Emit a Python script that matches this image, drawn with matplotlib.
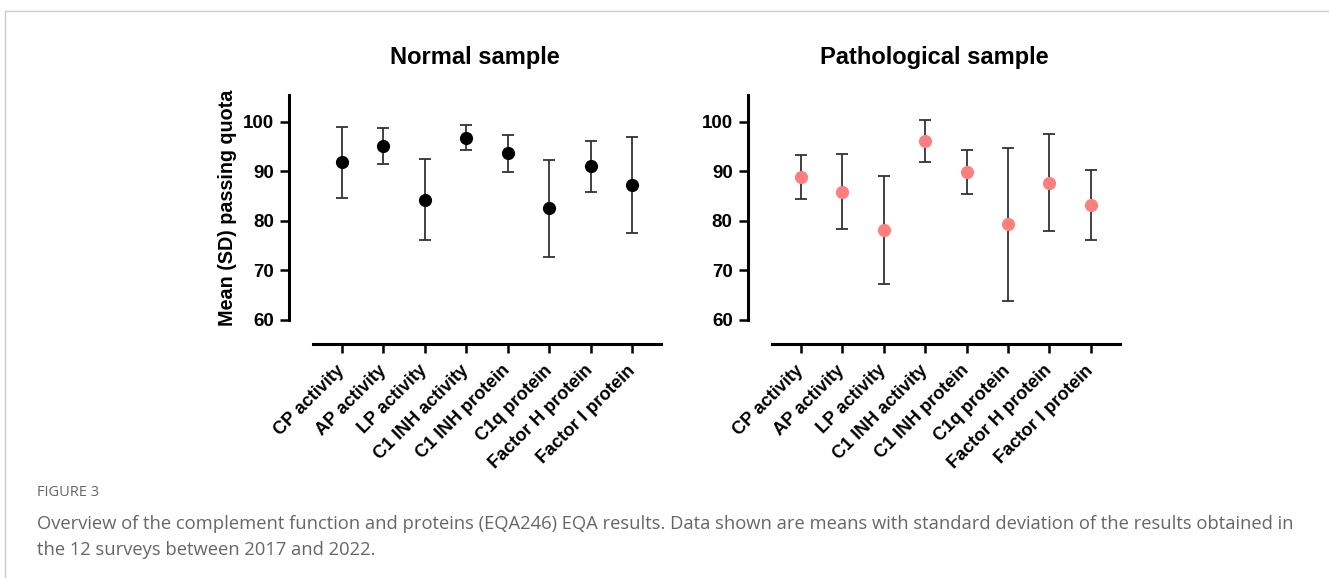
import matplotlib.pyplot as plt
import matplotlib.transforms as mtransforms
import numpy as np

# complement EQA results, mean and SD of passing quota (%)
categories = ['CP activity', 'AP activity', 'LP activity', 'C1 INH activity',
              'C1 INH protein', 'C1q protein', 'Factor H protein', 'Factor I protein']
normal_mean = [91.8, 95.1, 84.3, 96.8, 93.6, 82.5, 91.0, 87.2]
normal_sd = [7.1, 3.7, 8.1, 2.5, 3.75, 9.85, 5.1, 9.7]
patho_mean = [88.8, 85.9, 78.1, 96.1, 89.9, 79.3, 87.7, 83.2]
patho_sd = [4.45, 7.5, 10.85, 4.2, 4.45, 15.5, 9.75, 7.1]
y_ticks = [60, 70, 80, 90, 100]

plt.rcParams['font.family'] = ['Liberation Sans', 'DejaVu Sans']

fig = plt.figure(figsize=(13.29, 5.78), dpi=100)

panels = [
	(0.2355, normal_mean, normal_sd, 'black', 'Normal sample'),
	(0.5807, patho_mean, patho_sd, '#ff7f7f', 'Pathological sample'),
]

x_ind = np.arange(len(categories))
# nudge rotated labels a little left/down like the original
label_shift = mtransforms.ScaledTranslation(-6 / 100, -3 / 100, fig.dpi_scale_trans)
for left, means, sds, col, title in panels:
	ax = fig.add_axes([left, 0.4464, 0.262, 0.3893])
	# spines first: moving them resets the tick labels
	for s in ['top', 'right']:
		ax.spines[s].set_visible(False)
	ax.spines['left'].set_position(('outward', 17.3))
	ax.spines['bottom'].set_position(('outward', 17.3))
	ax.spines['left'].set_linewidth(2.2)
	ax.spines['bottom'].set_linewidth(2.2)

	ax.errorbar(x_ind, means, yerr=sds, fmt='none', ecolor='#333333',
				elinewidth=1.3, capsize=4.4, capthick=1.3, zorder=2)
	ax.plot(x_ind, means, 'o', color=col, markersize=9.5, markeredgewidth=0, zorder=3)
	ax.set_xlim(-0.7, 7.7)
	ax.set_ylim(60, 105.4)
	ax.set_yticks(y_ticks)
	ax.set_yticklabels([str(v) for v in y_ticks], fontsize=13.5, fontweight='bold')
	ax.set_xticks(x_ind)
	ax.set_xticklabels(categories, rotation=45, ha='right', rotation_mode='anchor',
					   fontsize=13, fontweight='bold')
	ax.tick_params(axis='both', width=1.8, length=6.8, color='black', pad=4)
	for lab in ax.get_xticklabels():
		lab.set_transform(lab.get_transform() + label_shift)
	ax.set_title(title, fontsize=17, fontweight='bold', pad=22, x=0.4655)
	if left < 0.5:
		ax.set_ylabel('Mean (SD) passing quota', fontsize=14.2, fontweight='bold', labelpad=4)

# page frame lines and caption
fig.add_artist(plt.Line2D([5 / 1329, 1], [1 - 11 / 578, 1 - 11 / 578], color='#cccccc', lw=1))
fig.add_artist(plt.Line2D([5 / 1329, 5 / 1329], [0, 1 - 11 / 578], color='#cccccc', lw=1))
fig.text(37 / 1329, 1 - 492 / 578, 'FIGURE 3', fontsize=10.5, color='#666666',
		 family='Open Sans', va='center')
fig.text(37 / 1329, 1 - 524 / 578,
		 'Overview of the complement function and proteins (EQA246) EQA results. '
		 'Data shown are means with standard deviation of the results obtained in',
		 fontsize=13.2, color='#666666', family='Open Sans', va='center')
fig.text(37 / 1329, 1 - 550 / 578, 'the 12 surveys between 2017 and 2022.',
		 fontsize=13.2, color='#666666', family='Open Sans', va='center')

plt.savefig('out.png', dpi=100)
